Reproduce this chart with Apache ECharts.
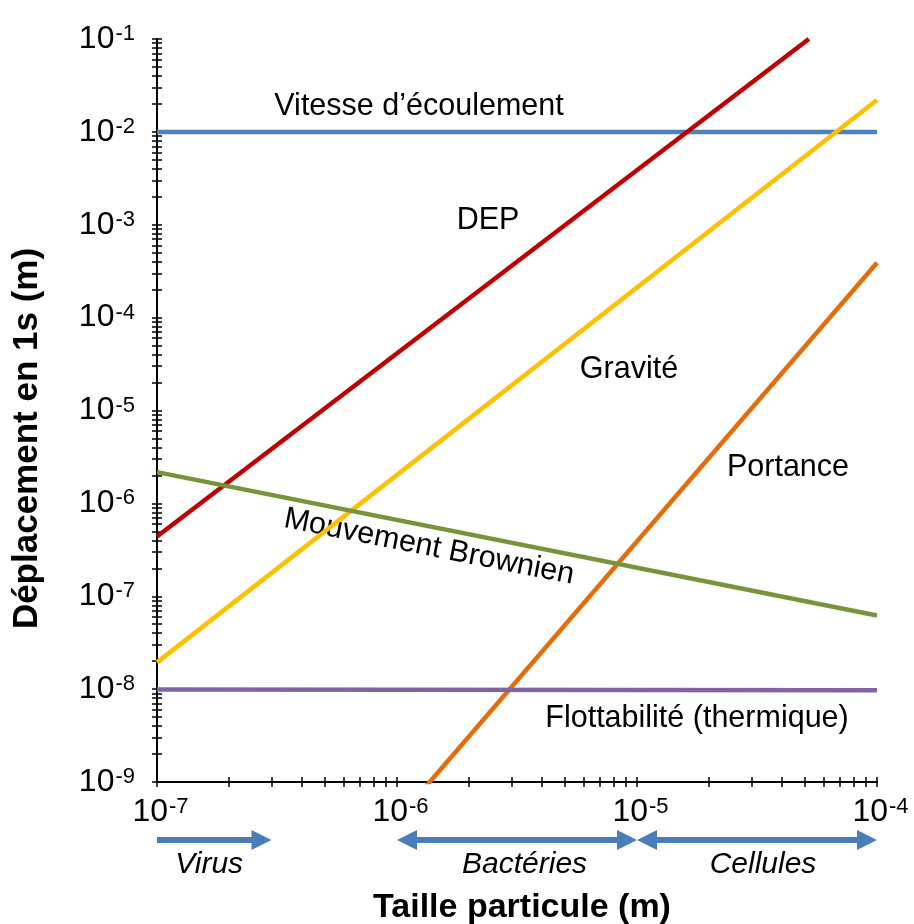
<!DOCTYPE html>
<html><head><meta charset="utf-8">
<script src="https://cdn.jsdelivr.net/npm/echarts@6/dist/echarts.min.js"></script>
<style>html,body{margin:0;padding:0;background:#fff}#main{width:914px;height:924px}</style>
</head><body><div id="main"></div>
<script>
// ---- data ----
const xRange = [1e-7, 1e-4];          // particle size axis (m)
const yRange = [1e-9, 1e-1];          // displacement axis (m)
const xMajorExp = [-7, -6, -5, -4];
const yMajorExp = [-9, -8, -7, -6, -5, -4, -3, -2, -1];

const vitesseX = [1e-7, 1e-4];       const vitesseY = [1e-2, 1e-2];
const depX = [1e-7, 5.2e-5];         const depY = [4.4e-7, 1e-1];
const graviteX = [1e-7, 1e-4];       const graviteY = [1.94e-8, 2.2e-2];
const portanceX = [1e-6, 1e-4];      const portanceY = [3.9e-10, 3.9e-4];
const brownX = [1e-7, 1e-4];         const brownY = [2.17e-6, 6.2e-8];
const flottX = [1e-7, 1e-4];         const flottY = [9.9e-9, 9.7e-9];

const rangeNames = ['Virus', 'Bactéries', 'Cellules'];
const rangeStart = [1e-7, 1e-6, 1e-5];
const rangeEnd = [3e-7, 1e-5, 1e-4];
const rangeHeadLeft = [0, 1, 1];
const rangeHeadRight = [1, 1, 1];
const rangeLabelX = [1.65e-7, 3.4e-6, 3.35e-5];

// ---- helpers ----
const FONT = '"Liberation Sans", Arial, sans-serif';
function pairs(xs, ys) { return xs.map((x, i) => [x, ys[i]]); }
function decadeTicks(exps) {
  const out = [];
  for (let k = 0; k < exps.length - 1; k++) {
    for (let m = 1; m <= 9; m++) out.push(m * Math.pow(10, exps[k]));
  }
  out.push(Math.pow(10, exps[exps.length - 1]));
  return out;
}
const xMajor = xMajorExp.map(e => Math.pow(10, e));
const yMajor = yMajorExp.map(e => Math.pow(10, e));
const xTicks = decadeTicks(xMajorExp);
const yTicks = decadeTicks(yMajorExp);
function powLabel(v) { return '{b|10}{s|' + Math.round(Math.log10(v)) + '}'; }
const richLab = {
  b: { fontSize: 32, fontFamily: FONT, color: '#000', lineHeight: 32, verticalAlign: 'bottom' },
  s: { fontSize: 22, fontFamily: FONT, color: '#000', lineHeight: 22, verticalAlign: 'top', padding: [0, 0, 0, 1] }
};
const axisCommonTick = { show: true, length: 5, lineStyle: { color: '#000', width: 1.5 } };

const chart = echarts.init(document.getElementById('main'), null, { renderer: 'canvas' });

function lineSeries(name, data, color) {
  return {
    name, type: 'line', data, xAxisIndex: 0, yAxisIndex: 0,
    showSymbol: false, symbol: 'none', clip: true, silent: true,
    lineStyle: { color, width: 4.5 }, z: 3
  };
}
const annFont = { fontSize: 30.5, fontFamily: FONT, fill: '#000', align: 'center', verticalAlign: 'middle' };
function ann(text, x, y, rot) {
  return { type: 'text', x, y, rotation: rot || 0, style: Object.assign({ text }, annFont) };
}

const option = {
  animation: false,
  backgroundColor: '#fff',
  grid: { left: 157, right: 37, top: 39, bottom: 142, containLabel: false, outerBoundsMode: 'none' },
  xAxis: [{
    type: 'log', min: xRange[0], max: xRange[1], logBase: 10, position: 'bottom',
    axisLine: { show: true, onZero: false, lineStyle: { color: '#000', width: 2 } },
    axisTick: Object.assign({}, axisCommonTick, { inside: false, customValues: xTicks }),
    axisLabel: { customValues: xMajor, formatter: powLabel, rich: richLab, margin: 14, padding: [0, 0, 0, 7] },
    splitLine: { show: false }, minorTick: { show: false },
    name: 'Taille particule (m)', nameLocation: 'middle', nameGap: 109,
    nameTextStyle: { fontSize: 34, fontWeight: 'bold', fontFamily: FONT, color: '#000', padding: [0, 0, 0, 10] }
  }, {
    type: 'log', min: xRange[0], max: xRange[1], logBase: 10, position: 'bottom', offset: 0,
    axisLine: { show: false },
    axisTick: Object.assign({}, axisCommonTick, { inside: true, customValues: xTicks }),
    axisLabel: { show: false }, splitLine: { show: false }
  }],
  yAxis: [{
    type: 'log', min: yRange[0], max: yRange[1], logBase: 10, position: 'left',
    axisLine: { show: true, onZero: false, lineStyle: { color: '#000', width: 2 } },
    axisTick: Object.assign({}, axisCommonTick, { inside: false, customValues: yTicks }),
    axisLabel: { customValues: yMajor, formatter: powLabel, rich: richLab, margin: 22 },
    splitLine: { show: false }, minorTick: { show: false },
    name: 'Déplacement en 1s (m)', nameLocation: 'middle', nameGap: 112, nameRotate: 90,
    nameTextStyle: { fontSize: 35, fontWeight: 'bold', fontFamily: FONT, color: '#000', padding: [0, 56, 0, 0] }
  }, {
    type: 'log', min: yRange[0], max: yRange[1], logBase: 10, position: 'left', offset: 0,
    axisLine: { show: false },
    axisTick: Object.assign({}, axisCommonTick, { inside: true, customValues: yTicks }),
    axisLabel: { show: false }, splitLine: { show: false }
  }],
  series: [
    lineSeries('Vitesse d’écoulement', pairs(vitesseX, vitesseY), '#4F81BD'),
    lineSeries('DEP', pairs(depX, depY), '#C00000'),
    lineSeries('Gravité', pairs(graviteX, graviteY), '#FFC000'),
    lineSeries('Portance', pairs(portanceX, portanceY), '#E46C0A'),
    lineSeries('Mouvement Brownien', pairs(brownX, brownY), '#77933C'),
    lineSeries('Flottabilité (thermique)', pairs(flottX, flottY), '#8064A2'),
    {
      type: 'custom', name: 'ranges', xAxisIndex: 0, yAxisIndex: 0, clip: false, silent: true,
      data: rangeNames.map((n, i) => [rangeStart[i], rangeEnd[i], rangeHeadLeft[i], rangeHeadRight[i], rangeLabelX[i]]),
      renderItem: function (params, api) {
        const i = params.dataIndex;
        const p0 = api.coord([api.value(0), yRange[0]]);
        const p1 = api.coord([api.value(1), yRange[0]]);
        const pl = api.coord([api.value(4), yRange[0]]);
        const l = api.value(2), r = api.value(3);
        const y = p0[1] + 58, a = p0[0], b = p1[0];
        const hl = 20, hh = 10, sw = 3;
        const pts = [];
        if (l) pts.push([a, y], [a + hl, y - hh], [a + hl, y - sw]); else pts.push([a, y - sw]);
        if (r) pts.push([b - hl, y - sw], [b - hl, y - hh], [b, y], [b - hl, y + hh], [b - hl, y + sw]);
        else pts.push([b, y - sw], [b, y + sw]);
        if (l) pts.push([a + hl, y + sw], [a + hl, y + hh]); else pts.push([a, y + sw]);
        return {
          type: 'group', children: [
            { type: 'polygon', shape: { points: pts }, style: { fill: '#4A7EBB' } },
            { type: 'text', style: { text: rangeNames[i], x: pl[0], y: y + 25, align: 'center', verticalAlign: 'middle',
                fontSize: 30, fontStyle: 'italic', fontFamily: FONT, fill: '#000' } }
          ]
        };
      }
    }
  ],
  graphic: [
    ann('Vitesse d’écoulement', 419, 107),
    ann('DEP', 488, 221),
    ann('Gravité', 629, 370),
    ann('Portance', 788, 468),
    ann('Mouvement Brownien', 429, 547, -0.195),
    ann('Flottabilité (thermique)', 697, 719)
  ]
};
chart.setOption(option);
</script></body></html>
